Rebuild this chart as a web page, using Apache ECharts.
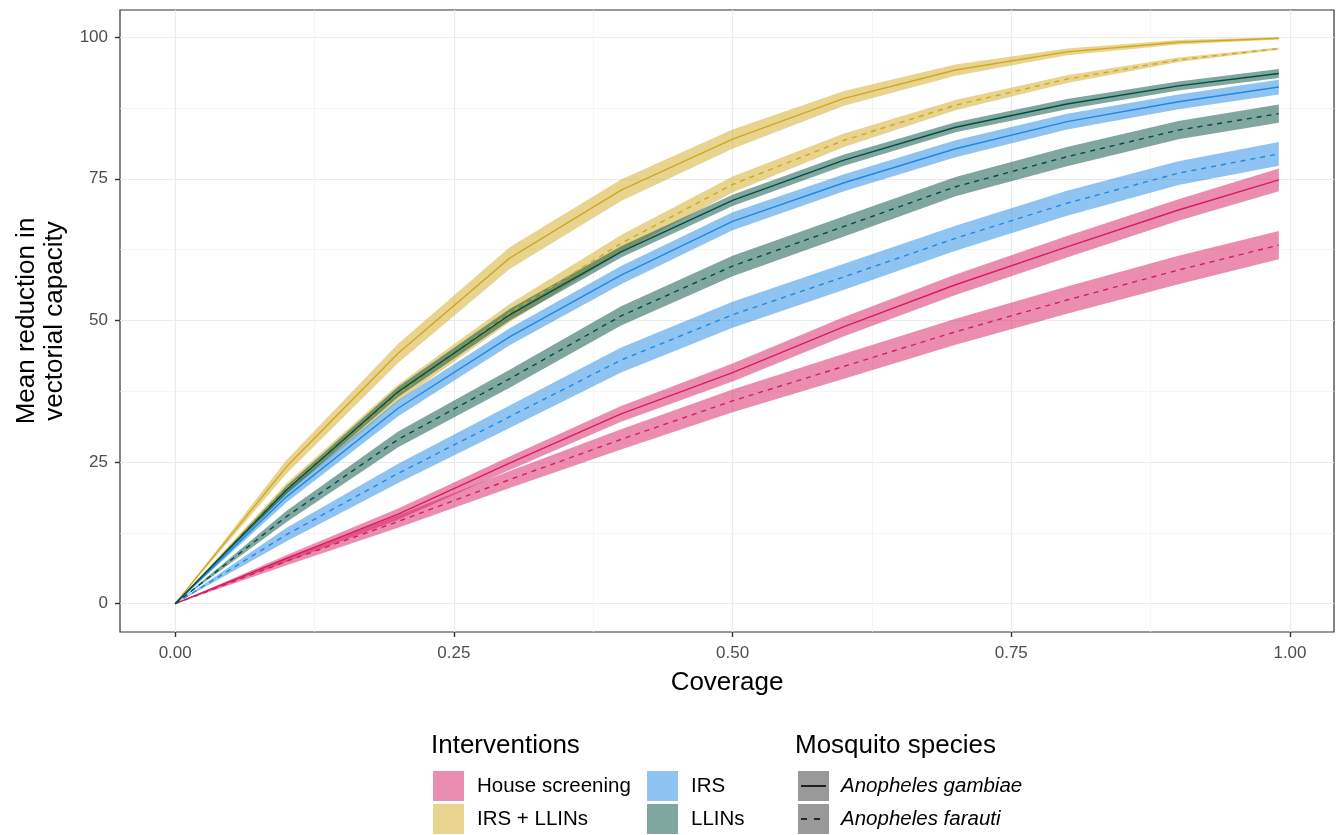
<!DOCTYPE html>
<html>
<head>
<meta charset="utf-8">
<script src="https://cdn.jsdelivr.net/npm/echarts@6/dist/echarts.min.js"></script>
<style>
  html, body { margin: 0; padding: 0; background: #fff; }
  #chart { width: 1342px; height: 835px; }
</style>
</head>
<body>
<div id="chart"></div>
<script>
var coverage = [0, 0.1, 0.2, 0.3, 0.4, 0.5, 0.6, 0.7, 0.8, 0.9, 0.99];

var xTicks = [0, 0.25, 0.5, 0.75, 1];
var xMinor = [0.125, 0.375, 0.625, 0.875];
var yTicks = [0, 25, 50, 75, 100];
var yMinor = [12.5, 37.5, 62.5, 87.5];

var interventions = ['House screening', 'IRS + LLINs', 'IRS', 'LLINs'];
var species = ['Anopheles gambiae', 'Anopheles farauti'];

// mean reduction and half width of the ribbon, per intervention / species
var screenGambiae = [0, 8.0, 15.8, 24.8, 33.5, 40.8, 48.9, 56.3, 63.0, 69.5, 74.8];
var screenGambiaeCi = [0, 0.6, 1.0, 1.2, 1.4, 1.6, 1.7, 1.8, 1.9, 1.9, 2.0];
var screenFarauti = [0, 7.5, 14.5, 21.9, 29.0, 35.8, 41.9, 48.0, 53.6, 58.9, 63.3];
var screenFarautiCi = [0, 0.7, 1.1, 1.5, 1.8, 2.0, 2.2, 2.3, 2.4, 2.5, 2.5];

var comboGambiae = [0, 24.2, 44.2, 61.0, 73.0, 82.0, 89.2, 94.2, 97.4, 99.1, 99.8];
var comboGambiaeCi = [0, 1.2, 1.7, 1.9, 1.9, 1.7, 1.3, 1.0, 0.6, 0.4, 0.2];
var comboFarauti = [0, 20.3, 37.2, 51.3, 63.6, 74.0, 81.8, 88.0, 92.6, 96.0, 98.0];
var comboFarautiCi = [0, 1.0, 1.5, 1.6, 1.5, 1.4, 1.2, 0.9, 0.7, 0.4, 0.2];

var irsGambiae = [0, 18.9, 34.5, 47.1, 58.0, 67.5, 74.3, 80.3, 85.1, 88.6, 91.2];
var irsGambiaeCi = [0, 1.0, 1.4, 1.5, 1.6, 1.6, 1.5, 1.5, 1.4, 1.3, 1.3];
var irsFarauti = [0, 12.2, 23.0, 33.0, 43.0, 51.0, 57.7, 64.5, 70.7, 76.0, 79.4];
var irsFarautiCi = [0, 1.2, 1.7, 2.0, 2.2, 2.3, 2.3, 2.2, 2.2, 2.1, 2.1];

var llinGambiae = [0, 20.1, 37.4, 51.0, 62.1, 71.2, 78.3, 84.1, 88.2, 91.4, 93.6];
var llinGambiaeCi = [0, 0.7, 0.9, 1.0, 1.0, 1.0, 1.0, 0.9, 0.9, 0.8, 0.8];
var llinFarauti = [0, 15.4, 29.0, 39.7, 50.8, 59.6, 66.6, 73.6, 78.9, 83.6, 86.5];
var llinFarautiCi = [0, 1.0, 1.4, 1.6, 1.7, 1.8, 1.8, 1.7, 1.7, 1.6, 1.6];

var colors = {
    'House screening': '#D81B60',
    'IRS + LLINs': '#D1A71F',
    'IRS': '#1E88E5',
    'LLINs': '#004D40'
};
var fills = {
    'House screening': 'rgba(216,27,96,0.5)',
    'IRS + LLINs': 'rgba(209,167,31,0.5)',
    'IRS': 'rgba(30,136,229,0.5)',
    'LLINs': 'rgba(0,77,64,0.5)'
};

var groups = [
    ['House screening', 0, screenGambiae, screenGambiaeCi],
    ['House screening', 1, screenFarauti, screenFarautiCi],
    ['IRS + LLINs', 0, comboGambiae, comboGambiaeCi],
    ['IRS + LLINs', 1, comboFarauti, comboFarautiCi],
    ['IRS', 0, irsGambiae, irsGambiaeCi],
    ['IRS', 1, irsFarauti, irsFarautiCi],
    ['LLINs', 0, llinGambiae, llinGambiaeCi],
    ['LLINs', 1, llinFarauti, llinFarautiCi]
];

var font = "'Liberation Sans', Arial, Helvetica, sans-serif";

function ribbon(name, mean, ci) {
    var rows = coverage.map(function (c, i) {
        return [c, mean[i] - ci[i], mean[i] + ci[i]];
    });
    return {
        name: name,
        type: 'custom',
        xAxisIndex: 0,
        yAxisIndex: 0,
        z: 2,
        silent: true,
        itemStyle: { color: fills[name] },
        encode: { x: 0, y: [1, 2] },
        data: rows,
        renderItem: function (params, api) {
            if (params.dataIndex !== 0) return;
            var pts = [];
            rows.forEach(function (r) { pts.push(api.coord([r[0], r[2]])); });
            rows.slice().reverse().forEach(function (r) { pts.push(api.coord([r[0], r[1]])); });
            return {
                type: 'polygon',
                shape: { points: pts },
                style: { fill: fills[name] }
            };
        }
    };
}

function meanLine(name, sp, mean) {
    return {
        name: species[sp],
        type: 'line',
        xAxisIndex: 0,
        yAxisIndex: 0,
        z: 3,
        silent: true,
        symbol: 'none',
        itemStyle: { color: colors[name] },
        lineStyle: {
            color: colors[name],
            width: 1.4,
            type: sp === 0 ? 'solid' : [5, 5]
        },
        data: coverage.map(function (c, i) { return [c, mean[i]]; })
    };
}

var series = [];
groups.forEach(function (g) { series.push(ribbon(g[0], g[2], g[3])); });
groups.forEach(function (g) { series.push(meanLine(g[0], g[1], g[2])); });

var legendText = { fontFamily: font, fontSize: 20.5, color: '#000', padding: [0, 0, 0, 8] };
var titleText = { fontFamily: font, fontSize: 26, fontWeight: 'normal', color: '#000' };

option = {
    animation: false,
    textStyle: { fontFamily: font },
    title: [
        { text: 'Interventions', left: 431, top: 733, textStyle: titleText, padding: 0 },
        { text: 'Mosquito species', left: 795, top: 733, textStyle: titleText, padding: 0 }
    ],
    legend: [
        {
            orient: 'vertical', left: 433, top: 771, padding: 0, itemGap: 3,
            itemWidth: 31, itemHeight: 30, selectedMode: false, textStyle: legendText,
            data: ['House screening', 'IRS + LLINs'].map(function (n) {
                return { name: n, icon: 'rect', itemStyle: { color: fills[n], borderWidth: 0 } };
            })
        },
        {
            orient: 'vertical', left: 647, top: 771, padding: 0, itemGap: 3,
            itemWidth: 31, itemHeight: 30, selectedMode: false, textStyle: legendText,
            data: ['IRS', 'LLINs'].map(function (n) {
                return { name: n, icon: 'rect', itemStyle: { color: fills[n], borderWidth: 0 } };
            })
        },
        {
            orient: 'vertical', left: 798, top: 771, padding: 0, itemGap: 3,
            itemWidth: 31, itemHeight: 30, selectedMode: false,
            textStyle: { fontFamily: font, fontSize: 20.5, color: '#000', fontStyle: 'italic', padding: [0, 0, 0, 7] },
            data: species.map(function (n) {
                return { name: n, icon: 'rect', itemStyle: { color: '#999999', borderWidth: 0 } };
            })
        }
    ],
    graphic: [
        { type: 'line', z: 100, shape: { x1: 801, y1: 786, x2: 826, y2: 786 }, style: { stroke: '#000', lineWidth: 1.6 } },
        { type: 'line', z: 100, shape: { x1: 801, y1: 819, x2: 826, y2: 819 }, style: { stroke: '#000', lineWidth: 1.6, lineDash: [6, 7] } }
    ],
    grid: {
        left: 120, right: 8, top: 10, bottom: 203,
        outerBoundsMode: 'none', containLabel: false,
        show: true, borderColor: '#333333', borderWidth: 1.2, backgroundColor: '#fff'
    },
    xAxis: [
        {
            type: 'value', min: -0.0495, max: 1.0395,
            name: 'Coverage', nameLocation: 'middle', nameGap: 38,
            nameTextStyle: { fontFamily: font, fontSize: 26, color: '#000' },
            axisLine: { show: false, onZero: false },
            axisTick: { show: true, length: 5, customValues: xTicks, lineStyle: { color: '#333', width: 1.4 } },
            axisLabel: {
                customValues: xTicks, margin: 13, fontSize: 17, color: '#4D4D4D', fontFamily: font,
                formatter: function (v) { return v.toFixed(2); }
            },
            splitLine: { show: true, lineStyle: { color: '#EBEBEB', width: 1.2 } }
        },
        {
            type: 'value', min: -0.0495, max: 1.0395, position: 'top',
            axisLine: { show: false, onZero: false },
            axisTick: { show: false, customValues: xMinor },
            axisLabel: { show: false, customValues: xMinor },
            splitLine: { show: true, lineStyle: { color: '#F0F0F0', width: 0.7 } }
        }
    ],
    yAxis: [
        {
            type: 'value', min: -5, max: 104.8,
            name: 'Mean reduction in\nvectorial capacity', nameLocation: 'middle', nameGap: 51, nameRotate: 90,
            nameTextStyle: { fontFamily: font, fontSize: 26, color: '#000', lineHeight: 28 },
            axisLine: { show: false, onZero: false },
            axisTick: { show: true, length: 5, customValues: yTicks, lineStyle: { color: '#333', width: 1.4 } },
            axisLabel: { customValues: yTicks, margin: 12, fontSize: 17, color: '#4D4D4D', fontFamily: font },
            splitLine: { show: true, lineStyle: { color: '#EBEBEB', width: 1.2 } }
        },
        {
            type: 'value', min: -5, max: 104.8, position: 'right',
            axisLine: { show: false, onZero: false },
            axisTick: { show: false, customValues: yMinor },
            axisLabel: { show: false, customValues: yMinor },
            splitLine: { show: true, lineStyle: { color: '#F0F0F0', width: 0.7 } }
        }
    ],
    series: series
};

var chart = echarts.init(document.getElementById('chart'));
chart.setOption(option);
</script>
</body>
</html>
